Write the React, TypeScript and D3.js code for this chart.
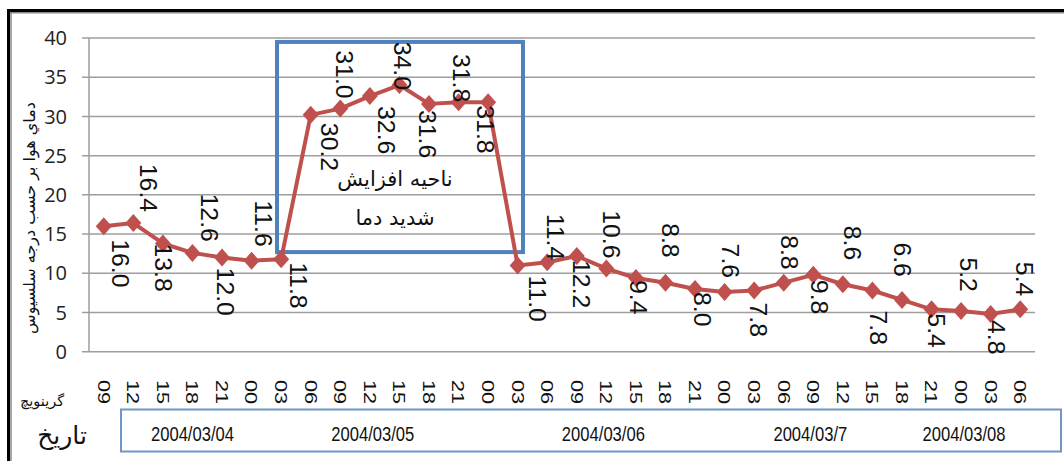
import React from "react";
import * as d3 from "d3";

// ---------- data ----------
const hours = ["09","12","15","18","21","00","03","06","09","12","15","18","21","00","03","06","09","12","15","18","21","00","03","06","09","12","15","18","21","00","03","06"];
const temps = [16.0,16.4,13.8,12.6,12.0,11.6,11.8,30.2,31.0,32.6,34.0,31.6,31.8,31.8,11.0,11.4,12.2,10.6,9.4,8.8,8.0,7.6,7.8,8.8,9.8,8.6,7.8,6.6,5.4,5.2,4.8,5.4];
const labelSide = ["below","above","below","above","below","above","below","below","above","below","above","below","above","below","below","above","below","above","below","above","below","above","below","above","below","above","below","above","below","above","below","above"];
const yTicks = [0, 5, 10, 15, 20, 25, 30, 35, 40];
const dates = ["2004/03/04", "2004/03/05", "2004/03/06", "2004/03/7", "2004/03/08"];
const dateAtIndex = [3.0, 9.1, 16.9, 23.9, 29.1];
const yTitle = "دماي هوا بر حسب درجه سلسيوس";
const hourTitle = "گرينويچ";
const dateTitle = "تاریخ";
const boxLines = ["ناحیه افزایش", "شدید دما"];
const boxIndexRange = [5.86, 14.18];
const boxValueRange = [12.7, 39.5];

// label placement nudges (layout only)
const labelDx = [17,15,0,17,3,12,17,19,4,16,3,-1.5,2.5,-3,20,8,5,5,2,5,7,5.5,4,6,6,9,6,0,5,7,6,4];
const labelGap = [13,11,0,11,10,14,3,8,10,10,-5,6,0,3,10,2,4,10,2,25,3,14,12,13,5,24,20,23,4,19,6,13];

export default function App() {
  const W = 1064, H = 461;
  const plotL = 89, plotR = 1035, plotT = 38, plotB = 351.7;
  const x = d3.scaleBand<number>().domain(d3.range(temps.length)).range([plotL, plotR]);
  const bw = x.bandwidth();
  const cx = (i: number) => (x(i) as number) + bw / 2;
  const xi = d3.scaleLinear().domain([0, temps.length - 1]).range([cx(0), cx(temps.length - 1)]);
  const y = d3.scaleLinear().domain([0, 40]).range([plotB, plotT]);

  const line = d3.line<number>().x((_, i) => cx(i)).y((d) => y(d));
  const diamond = (px: number, py: number) =>
    `M${px},${py - 9}L${px + 8},${py}L${px},${py + 9}L${px - 8},${py}Z`;

  const red = "#C0504D";
  const blue = "#4F81BD";
  const grid = "#9E9E9E";
  const sans = "'Liberation Sans', Arial, sans-serif";
  const fa = "'DejaVu Sans', sans-serif";

  const bx0 = xi(boxIndexRange[0]), bx1 = xi(boxIndexRange[1]);
  const by0 = y(boxValueRange[1]), by1 = y(boxValueRange[0]);
  const bcx = (bx0 + bx1) / 2 - 5;

  return (
    <svg width={W} height={H} style={{ position: "absolute", left: 0, top: 0, background: "#fff" }}>
      <rect x={0} y={0} width={W} height={H} fill="#fff" />
      {/* frame */}
      <line x1={7} x2={W} y1={10.5} y2={10.5} stroke="#000" strokeWidth={3} />
      <line x1={10} x2={W} y1={12.8} y2={12.8} stroke="#8a8a8a" strokeWidth={1.5} />
      <line x1={8.5} x2={8.5} y1={9} y2={H} stroke="#000" strokeWidth={3} />
      <line x1={11} x2={11} y1={12} y2={H} stroke="#8a8a8a" strokeWidth={1.5} />

      {/* gridlines & y ticks */}
      {yTicks.map((t) => (
        <g key={t}>
          <line x1={plotL - 7} x2={plotR} y1={y(t)} y2={y(t)} stroke={grid} strokeWidth={1.5} />
          <text x={67} y={y(t)} dy="0.36em" textAnchor="end" fontFamily="'Open Sans', sans-serif" fontSize={20} fill="#222">
            {t}
          </text>
        </g>
      ))}
      <line x1={plotL} x2={plotL} y1={plotT} y2={plotB} stroke={grid} strokeWidth={1.5} />

      {/* y title */}
      <text transform={`translate(29,218) rotate(-90)`} textAnchor="middle" dy="0.35em" fontFamily={fa} fontSize={16} fill="#111">
        {yTitle}
      </text>

      {/* annotation box */}
      <rect x={bx0} y={by0} width={bx1 - bx0} height={by1 - by0} fill="none" stroke={blue} strokeWidth={4} />
      <text x={bcx} y={186} textAnchor="middle" fontFamily={fa} fontSize={21} fill="#111" direction="rtl">
        {boxLines[0]}
      </text>
      <text x={bcx} y={225} textAnchor="middle" fontFamily={fa} fontSize={21} fill="#111" direction="rtl">
        {boxLines[1]}
      </text>

      {/* series */}
      <path d={line(temps) || ""} fill="none" stroke={red} strokeWidth={4} strokeLinejoin="round" />
      {temps.map((v, i) => (
        <path key={i} d={diamond(cx(i), y(v))} fill={red} />
      ))}

      {/* data labels */}
      {temps.map((v, i) => {
        const above = labelSide[i] === "above";
        const px = cx(i) + labelDx[i];
        const py = above ? y(v) - labelGap[i] : y(v) + labelGap[i];
        return (
          <text
            key={i}
            transform={`translate(${px},${py}) rotate(90) scale(1.08,1)`}
            textAnchor={above ? "end" : "start"}
            dy="0.36em"
            fontFamily={sans}
            fontSize={23}
            fill="#111"
          >
            {v.toFixed(1)}
          </text>
        );
      })}

      {/* x tick labels */}
      {hours.map((h, i) => (
        <text
          key={i}
          transform={`translate(${cx(i)},380) rotate(90) scale(1.28,1)`}
          textAnchor="start"
          dy="0.36em"
          fontFamily={sans}
          fontSize={17}
          fill="#111"
        >
          {h}
        </text>
      ))}
      <text x={42} y={401} dy="0.35em" textAnchor="middle" fontFamily={fa} fontSize={14.5} fill="#111">
        {hourTitle}
      </text>

      {/* dates row */}
      <rect x={121} y={409.5} width={940} height={42} fill="none" stroke="#7096C8" strokeWidth={2} />
      {dates.map((d, i) => (
        <text
          key={d}
          transform={`translate(${xi(dateAtIndex[i])},441) scale(1,1.26)`}
          textAnchor="middle"
          fontFamily={sans}
          fontSize={16.6}
          fill="#111"
        >
          {d}
        </text>
      ))}
      <text x={62} y={435} dy="0.35em" textAnchor="middle" fontFamily={fa} fontSize={25} fill="#111">
        {dateTitle}
      </text>
    </svg>
  );
}
